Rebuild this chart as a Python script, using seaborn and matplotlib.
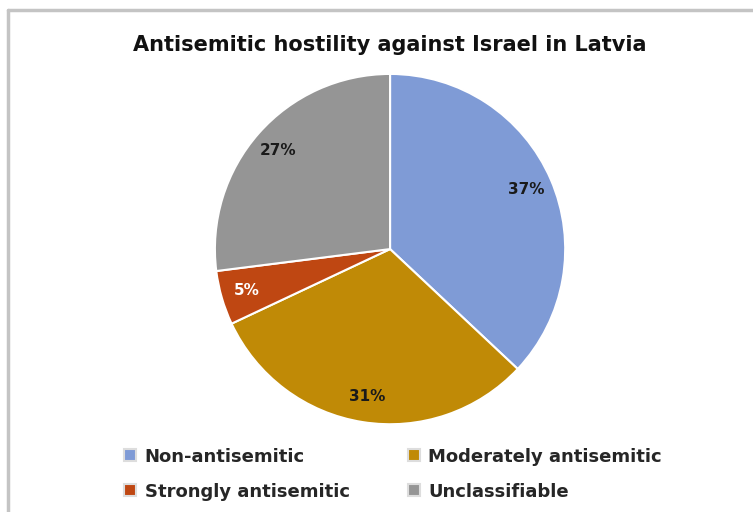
import matplotlib
matplotlib.use("Agg")
import matplotlib.pyplot as plt
from matplotlib.lines import Line2D
import seaborn as sns

# data
categories = ["Non-antisemitic", "Moderately antisemitic", "Strongly antisemitic", "Unclassifiable"]
shares = [37, 31, 5, 27]
colors = ["#7f9bd6", "#c08a06", "#bf4712", "#959595"]
label_colors = ["#1a1a1a", "#1a1a1a", "#ffffff", "#1a1a1a"]

sns.set_theme(style="white")
plt.rcParams["font.family"] = ["DejaVu Sans"]

fig = plt.figure(figsize=(7.53, 5.12), dpi=100)
ax = fig.add_axes([0.283, 0.168, 0.470, 0.691])

wedges, texts, autotexts = ax.pie(
    shares, colors=colors, startangle=90, counterclock=False,
    autopct=lambda p: f"{p:.0f}%", pctdistance=0.85,
    wedgeprops=dict(edgecolor="white", linewidth=1.5),
)
for t, c in zip(autotexts, label_colors):
    t.set_color(c)
    t.set_fontsize(11)
    t.set_fontweight("bold")
ax.set_xlim(-1.01, 1.01)
ax.set_ylim(-1.01, 1.01)
ax.set_aspect("equal")

fig.text(0.518, 0.912, "Antisemitic hostility against Israel in Latvia",
         ha="center", va="center", fontsize=15, fontweight="bold", color="#111111")

handles = [Line2D([0], [0], marker="s", linestyle="", markersize=8,
                  markerfacecolor=c, markeredgecolor="#dddddd", markeredgewidth=1.5)
           for c in colors]
# legend fills column-first, so reorder to read row by row
order = [0, 2, 1, 3]
fig.legend([handles[i] for i in order], [categories[i] for i in order],
           loc="center left", bbox_to_anchor=(0.149, 0.074), ncol=2,
           frameon=False, prop=dict(size=13, weight="bold"), handletextpad=0.3,
           columnspacing=3.05, labelspacing=0.95, handlelength=1.0, borderpad=0)

# outer frame (top and left edges visible)
fig.add_artist(Line2D([8 / 753, 1], [1 - 10 / 512, 1 - 10 / 512], color="#c4c4c4", linewidth=2.5))
fig.add_artist(Line2D([8 / 753, 8 / 753], [0, 1 - 10 / 512], color="#c4c4c4", linewidth=2.5))

fig.savefig("out.png", dpi=100)
